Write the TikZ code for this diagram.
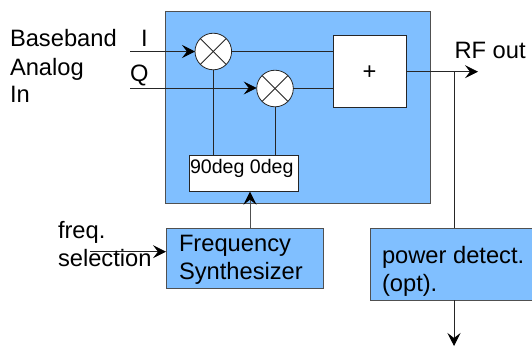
\documentclass[tikz,border=0pt]{standalone}
\usepackage{fontspec}
\setmainfont{Liberation Sans}
\usetikzlibrary{arrows.meta}
\definecolor{bluefill}{HTML}{80BFFF}
\definecolor{edgegray}{HTML}{505050}
\tikzset{
  wire/.style={draw=black!85, line width=0.8pt},
  flow/.style={wire, -{Stealth[length=13pt,width=13pt,inset=5pt,fill=black,color=black]}},
  bluebox/.style={draw=edgegray, fill=bluefill, line width=1pt, rectangle, inner sep=0pt, outer sep=0pt, anchor=north west},
  whitebox/.style={draw=black!85, fill=white, line width=1pt, rectangle, inner sep=0pt, outer sep=0pt, anchor=north west},
  mixer/.style={draw=black!85, fill=white, line width=0.8pt, circle, minimum size=36.6pt, inner sep=0pt, outer sep=0pt},
  lbl/.style={anchor=base west, inner sep=0pt, outer sep=0pt, font=\fontsize{23.7}{27}\selectfont},
  lblsmall/.style={anchor=base west, inner sep=0pt, outer sep=0pt, font=\fontsize{19.6}{22}\selectfont},
}
\begin{document}
\begin{tikzpicture}[x=1pt,y=-1pt]
\useasboundingbox (0,0) rectangle (532,346);
\clip (0,0) rectangle (532,346);
% boxes
\node[bluebox, minimum width=264.3pt, minimum height=192.3pt] (rf) at (165.7,11) {};
\node[whitebox, minimum width=73.4pt, minimum height=72pt] (sum) at (333.3,35.3) {};
\node[anchor=center, inner sep=0pt, font=\fontsize{23.7}{27}\selectfont] (plus) at (369.6,73) {+};
\node[whitebox, minimum width=109pt, minimum height=36.4pt] (lo) at (189.3,155.3) {};
\node[bluebox, minimum width=157.3pt, minimum height=60.3pt] (syn) at (166,228) {};
\node[bluebox, minimum width=170pt, minimum height=72pt] (pd) at (370.5,228) {};
% mixers
\node[mixer] (m1) at (213.3,51.5) {};
\node[mixer] (m2) at (275,88.5) {};
\foreach \m in {m1,m2}{
  \draw[wire] (\m.45) -- (\m.225);
  \draw[wire] (\m.135) -- (\m.315);
}
% free ends
\coordinate (iin) at (130,51.5);
\coordinate (qin) at (130,88);
\coordinate (fin) at (90,251.7);
\coordinate (outend) at (478,71.7);
\coordinate (pdend) at (454,346);
\coordinate (branch) at (454,71.7);
% connectors
\draw[flow] (iin) -- (m1.west);
\draw[flow] (qin) -- (qin -| m2.west);
\draw[wire] (m1.east) -- (m1.east -| sum.west);
\draw[wire] (m2.east) -- (m2.east -| sum.west);
\draw[wire] (m1.south) -- (m1.south |- lo.north);
\draw[wire] (m2.south) -- (m2.south |- lo.north);
\draw[flow] (sum.east |- outend) -- (outend);
\draw[wire] (branch) -- (branch |- pd.north);
\draw[flow] (branch |- pd.south) -- (pdend);
\draw[flow, draw=edgegray] (syn.north -| 250,0) -- (lo.south -| 250,0);
\draw[flow] (fin) -- (fin -| syn.west);
% labels
\node[lbl] (t1) at (10,46.7) {Baseband};
\node[lbl] (t2) at (10,75) {Analog};
\node[lbl] (t3) at (10,102.5) {In};
\node[lbl] (ti) at (141,46) {I};
\node[lbl] (tq) at (130,81) {Q};
\node[lbl] (trf) at (454.5,58.5) {RF out};
\node[lblsmall] (tlo) at (190,173.5) {90deg 0deg};
\node[lbl] (tf1) at (58,238) {freq.};
\node[lbl] (tf2) at (58,266.7) {selection};
\node[lbl] (ts1) at (179,251.7) {Frequency};
\node[lbl] (ts2) at (179,279.5) {Synthesizer};
\node[lbl] (tp1) at (382,263.5) {power detect.};
\node[lbl] (tp2) at (382,291) {(opt).};
\end{tikzpicture}
\end{document}
